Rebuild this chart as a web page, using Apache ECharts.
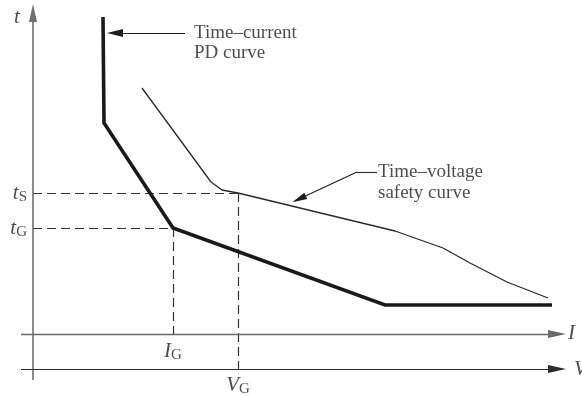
<!DOCTYPE html>
<html><head><meta charset="utf-8">
<script src="https://cdn.jsdelivr.net/npm/echarts@6/dist/echarts.min.js"></script>
<style>html,body{margin:0;padding:0;background:#fff}#c{width:582px;height:396px}</style>
</head><body><div id="c"></div>
<script>
// Schematic values (x: current / voltage units, y: time units)
const pdCurveX = [70, 71, 140, 352, 519];
const pdCurveY = [317, 211, 106, 29, 29];
const safetyCurveX = [109, 178, 189, 205, 362, 410, 437, 474, 515];
const safetyCurveY = [246, 152, 144, 141, 103, 86, 71, 52, 36];
const tS = 141, tG = 106, IG = 140, VG = 205;
const vAxisLevel = -35;          // level of the V axis below the I axis
const axisExtentX = [-12, 524];  // horizontal axes span
const axisExtentY = [-46, 321];  // time axis span
const annotations = ['Time\u2013current', 'PD curve', 'Time\u2013voltage', 'safety curve'];
const annotationAnchors = [[161, 301], [161, 281], [345, 162], [345, 141]];
const pdArrow = [[152, 301], [82, 301]];
const safetyLeader = [[344, 162], [324, 162], [266, 135]];

const SERIF = '"Liberation Serif","Times New Roman",serif';
const INK = '#1e1e1e';
const rich = {
  i: {fontFamily: SERIF, fontStyle: 'italic', fontSize: 21, color: INK},
  s: {fontFamily: SERIF, fontSize: 15, color: INK, padding: [9, 0, 0, 0]}
};
function lbl(coord, text, position, distance) {
  return {value: coord, label: {show: true, formatter: text, position: position, distance: distance || 0, rich: rich}};
}
const pd = pdCurveX.map((x, i) => [x, pdCurveY[i]]);
const safety = safetyCurveX.map((x, i) => [x, safetyCurveY[i]]);

const arrowLine = (a, b, color, w, size) => [
  {coord: a, symbol: 'none', lineStyle: {color: color, width: w}, itemStyle: {color: color}},
  {coord: b, symbol: 'triangle', symbolSize: size, itemStyle: {color: color}}
];

const option = {
  backgroundColor: '#fff',
  animation: false,
  grid: {left: 0, right: 0, top: 0, bottom: 0},
  xAxis: {type: 'value', min: -33, max: 549, show: false},
  yAxis: {type: 'value', min: -62, max: 334, show: false},
  series: [
    {
      type: 'line', data: pd, symbol: 'none', z: 5,
      lineStyle: {color: '#1a1a1a', width: 3.6, join: 'miter'}
    },
    {
      type: 'line', data: safety, symbol: 'none', z: 4,
      lineStyle: {color: '#2a2a2a', width: 1.3}
    },
    {
      type: 'line', data: [], symbol: 'none',
      markLine: {
        silent: true, animation: false,
        label: {show: false},
        symbol: ['none', 'none'],
        lineStyle: {type: [9, 5], color: '#333', width: 1.2},
        data: [
          [{coord: [0, tS]}, {coord: [VG, tS]}],
          [{coord: [0, tG]}, {coord: [IG, tG]}],
          [{coord: [IG, tG]}, {coord: [IG, 0]}],
          [{coord: [VG, tS]}, {coord: [VG, vAxisLevel]}]
        ]
      }
    },
    {
      type: 'line', data: [], symbol: 'none',
      markLine: {
        silent: true, animation: false,
        label: {show: false},
        lineStyle: {type: 'solid', color: '#333', width: 1.2},
        data: [
          arrowLine([0, axisExtentY[0]], [0, axisExtentY[1]], '#707070', 1.6, [8, 18]),
          arrowLine([axisExtentX[0], 0], [axisExtentX[1], 0], '#6a6a6a', 1.4, [8, 18]),
          arrowLine([axisExtentX[0], vAxisLevel], [axisExtentX[1], vAxisLevel], '#2a2a2a', 1.2, [8, 18]),
          arrowLine(pdArrow[0], pdArrow[1], '#1e1e1e', 1.1, [8, 16]),
          [{coord: safetyLeader[0], symbol: 'none'}, {coord: safetyLeader[1], symbol: 'none'}],
          arrowLine(safetyLeader[1], safetyLeader[2], '#1e1e1e', 1.1, [7, 15])
        ]
      }
    },
    {
      type: 'scatter', symbolSize: 0, silent: true,
      data: [
        lbl([-16, 317], '{i|t}', 'inside'),
        lbl([535, 1], '{i|I}', 'right', 0),
        lbl([541, vAxisLevel], '{i|V}', 'right', 0),
        lbl([-6, tS], '{i|t}{s|S}', 'left', 0),
        lbl([-6, tG], '{i|t}{s|G}', 'left', 0),
        lbl([IG, 0], '{i|I}{s|G}', 'bottom', 5),
        lbl([VG, vAxisLevel], '{i|V}{s|G}', 'bottom', 4)
      ]
    },
    {
      type: 'scatter', symbolSize: 0, silent: true,
      data: annotations.map((t, k) => ({
        value: annotationAnchors[k],
        label: {show: true, formatter: t, position: 'right', distance: 0,
          fontFamily: SERIF, fontSize: 19, color: INK}
      }))
    }
  ]
};
const chart = echarts.init(document.getElementById('c'), null, {renderer: 'canvas'});
chart.setOption(option);
</script></body></html>
